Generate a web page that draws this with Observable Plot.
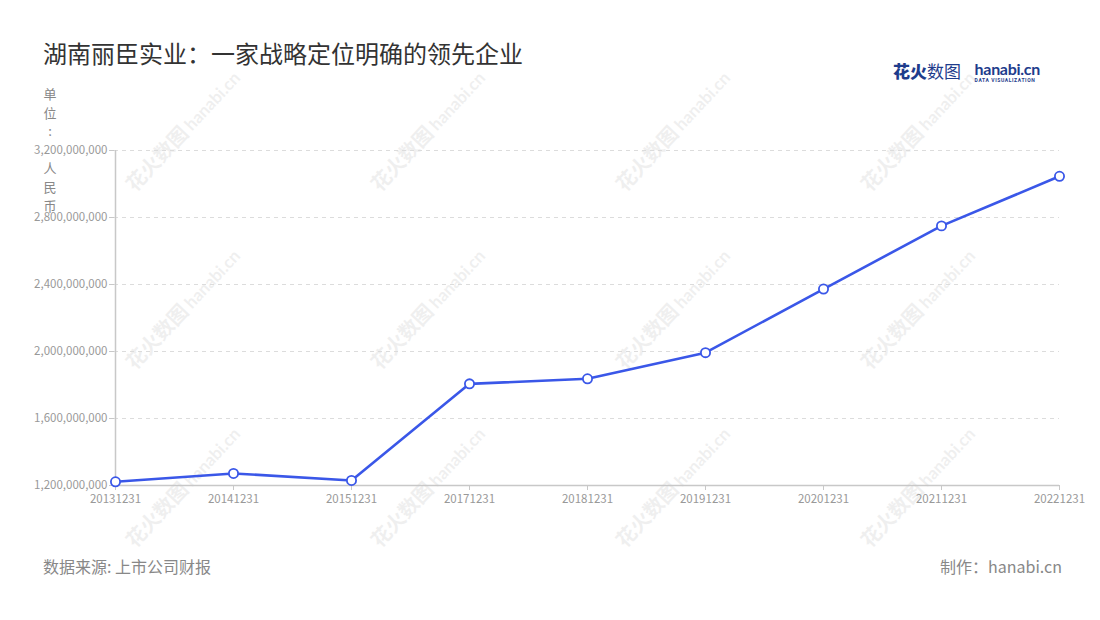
<!DOCTYPE html>
<html>
<head>
<meta charset="utf-8">
<script src="https://cdn.jsdelivr.net/npm/d3@7"></script>
<script src="https://cdn.jsdelivr.net/npm/@observablehq/plot@0.6"></script>
<style>
  html, body { margin: 0; padding: 0; background: #fff; }
  body { width: 1100px; height: 620px; position: relative; overflow: hidden;
         font-family: "Noto Sans CJK SC", "Noto Sans", sans-serif; }
  .abs { position: absolute; }
  #title { left: 43px; top: 41px; font-size: 24px; line-height: 1; color: #333; white-space: nowrap; }
  #unit { left: 40px; top: 85px; width: 20px; text-align: center; font-size: 13px; line-height: 18.6px; color: #888; white-space: pre; }
  #chart { left: 0; top: 80px; }
  #source { left: 43px; top: 556px; font-size: 16px; line-height: 1.3; color: #888; }
  #maker { right: 38px; top: 556px; font-size: 16px; line-height: 1.3; color: #888; }
  #logo { left: 893px; top: 61px; color: #1e3c8c; white-space: nowrap; }
  .wm { position: absolute; transform: translate(-50%, -50%) rotate(-47deg); color: #000; opacity: 0.06;
        white-space: nowrap; font-weight: bold; pointer-events: none; }
</style>
</head>
<body>
<div id="wms"></div>
<div id="title" class="abs">湖南丽臣实业：一家战略定位明确的领先企业</div>
<div id="logo" class="abs">
  <span style="font-size:17px;font-weight:900;line-height:20px;vertical-align:top;">花火</span><span style="font-size:17px;font-weight:400;line-height:20px;vertical-align:top;">数图</span>
  <span style="display:inline-block;vertical-align:top;margin-left:10px;">
    <span style="display:block;font-family:'Lato','Roboto',sans-serif;font-size:16px;font-weight:bold;line-height:16px;letter-spacing:-0.3px;">hanabi.cn</span>
    <span style="display:block;font-family:'Roboto',sans-serif;font-size:5px;font-weight:bold;line-height:6px;letter-spacing:0.6px;">DATA VISUALIZATION</span>
  </span>
</div>
<div id="chart" class="abs"></div>
<div id="unit" class="abs">单
位
:

人
民
币</div>
<div id="source" class="abs">数据来源: 上市公司财报</div>
<div id="maker" class="abs">制作：hanabi.cn</div>
<script>
const dates = ["20131231","20141231","20151231","20171231","20181231","20191231","20201231","20211231","20221231"];
const values = [1222000000, 1272000000, 1230000000, 1807000000, 1837000000, 1993000000, 2373000000, 2750000000, 3046000000];
const yTicks = [1200000000, 1600000000, 2000000000, 2400000000, 2800000000, 3200000000];

const data = dates.map((d, i) => ({date: d, value: values[i]}));
const blue = "#3a57e8";
const fmt = d3.format(",");

const chart = Plot.plot({
  width: 1100,
  height: 440,
  marginTop: 70,
  marginBottom: 35,
  marginLeft: 114,
  marginRight: 41,
  style: {fontFamily: '"Noto Sans CJK SC", "Noto Sans", sans-serif', fontSize: "11.5px", color: "#999", background: "transparent", overflow: "visible"},
  x: {type: "point", domain: dates, padding: 0, label: null},
  y: {domain: [yTicks[0], yTicks[yTicks.length - 1]], label: null},
  marks: [
    Plot.gridY(yTicks.slice(1), {stroke: "#dcdcdc", strokeOpacity: 1, strokeDasharray: "4,4", strokeWidth: 1}),
    Plot.ruleY([yTicks[0]], {stroke: "#c8c8c8", strokeWidth: 1.5}),
    Plot.ruleX([dates[0]], {stroke: "#c8c8c8", strokeWidth: 1.5}),
    Plot.axisY({ticks: yTicks, tickFormat: fmt, tickSize: 5, tickPadding: 2, stroke: "#c8c8c8", fill: "#999", label: null}),
    Plot.axisX({tickSize: 5, tickPadding: 4, stroke: "#c8c8c8", fill: "#999", label: null}),
    Plot.line(data, {x: "date", y: "value", stroke: blue, strokeWidth: 2.6}),
    Plot.dot(data, {x: "date", y: "value", r: 4.6, fill: "white", stroke: blue, strokeWidth: 1.8})
  ]
});
document.getElementById("chart").appendChild(chart);

// watermarks
const wms = document.getElementById("wms");
for (let r = 0; r < 3; r++) {
  for (let c = 0; c < 4; c++) {
    const d = document.createElement("div");
    d.className = "wm";
    d.style.left = (182 + c * 245) + "px";
    d.style.top = (130 + r * 178) + "px";
    d.innerHTML = '<span style="font-size:20px;">花火数图</span> <span style="font-family:Lato,sans-serif;font-size:17px;">hanabi.cn</span>';
    wms.appendChild(d);
  }
}
</script>
</body>
</html>
